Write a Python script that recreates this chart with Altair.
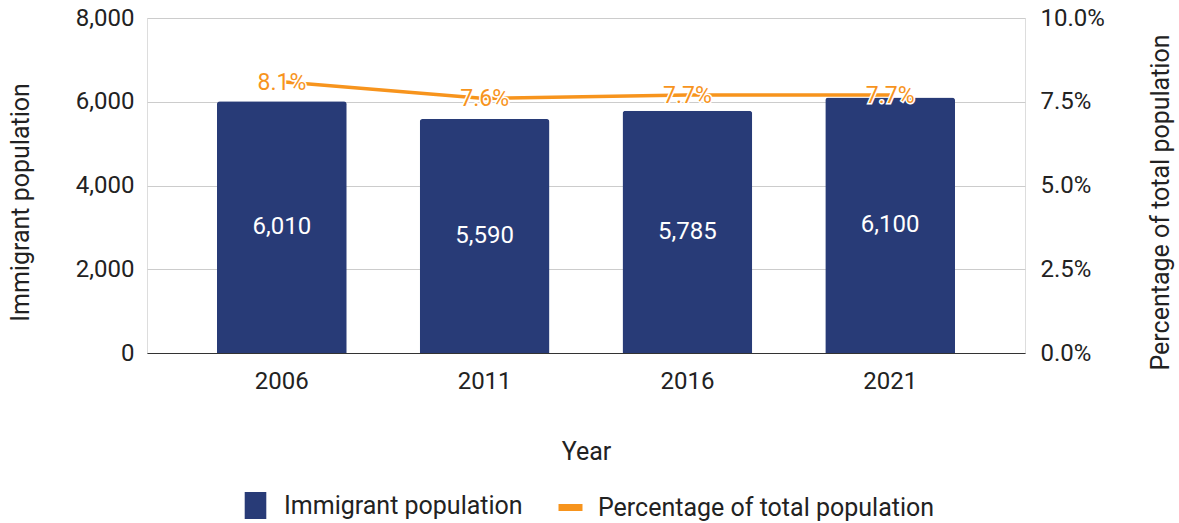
import altair as alt
import pandas as pd

years = ["2006", "2011", "2016", "2021"]
immigrants = [6010, 5590, 5785, 6100]
pct = [0.081, 0.076, 0.077, 0.077]
pct_labels = ["8.1%", "7.6%", "7.7%", "7.7%"]
imm_labels = ["6,010", "5,590", "5,785", "6,100"]

df = pd.DataFrame({
    "Year": years,
    "Immigrants": immigrants,
    "Pct": pct,
    "PctLabel": pct_labels,
    "ImmLabel": imm_labels,
    "s1": ["Immigrant population"] * 4,
    "s2": ["Percentage of total population"] * 4,
})

NAVY = "#283b77"
ORANGE = "#f7941d"
FONT = "Roboto"
TXT = "#222222"

x = alt.X("Year:N", title="Year",
          scale=alt.Scale(paddingInner=0, paddingOuter=0.165),
          axis=alt.Axis(labelAngle=0, labelFontSize=24, labelPadding=16, titleFontSize=25,
                        titlePadding=46, ticks=False, domainColor="#333", domainWidth=1.2,
                        labelColor=TXT, titleColor=TXT, labelFont=FONT, titleFont=FONT,
                        titleFontWeight="normal"))

left_axis = alt.Axis(values=[0, 2000, 4000, 6000, 8000], format=",.0f", labelFontSize=24,
                     titleFontSize=25, labelPadding=13, titlePadding=42, titleY=184, ticks=False,
                     domain=False, gridColor="#cccccc", labelColor=TXT, titleColor=TXT,
                     labelFont=FONT, titleFont=FONT, titleFontWeight="normal")
left_scale = alt.Scale(domain=[0, 8000])

right_axis = alt.Axis(orient="right", values=[0, 0.025, 0.05, 0.075, 0.1], format=".1%",
                      labelFontSize=24, titleFontSize=25, labelPadding=15, titlePadding=44,
                      titleAngle=270, titleBaseline="top", titleY=184,
                      ticks=False, domain=False, grid=False, labelColor=TXT,
                      titleColor=TXT, labelFont=FONT, titleFont=FONT,
                      titleFontWeight="normal")
right_scale = alt.Scale(domain=[0, 0.1])

bars = alt.Chart(df).mark_bar(cornerRadiusTopLeft=3, cornerRadiusTopRight=3,
                              width=alt.RelativeBandSize(0.64)).encode(
    x=x,
    y=alt.Y("Immigrants:Q", title="Immigrant population", scale=left_scale, axis=left_axis),
    fill=alt.Fill("s1:N", scale=alt.Scale(range=[NAVY]),
                  legend=alt.Legend(title=None, orient="none", legendX=95, legendY=474,
                                    symbolType="M-0.8,-1 L0.8,-1 L0.8,1 L-0.8,1 Z",
                                    symbolSize=729, symbolStrokeWidth=0, labelFontSize=25,
                                    labelFont=FONT, labelColor=TXT, labelOffset=15, padding=0,
                                    labelLimit=400)),
)

bar_text = alt.Chart(df).mark_text(color="white", fontSize=24, font=FONT, baseline="middle").encode(
    x=x,
    y=alt.Y("mid:Q", title="Immigrant population", scale=left_scale, axis=left_axis),
    text="ImmLabel:N",
).transform_calculate(mid="datum.Immigrants / 2")

line = alt.Chart(df).mark_line(strokeWidth=3.5).encode(
    x=x,
    y=alt.Y("Pct:Q", title="Percentage of total population", scale=right_scale, axis=right_axis),
    stroke=alt.Stroke("s2:N", scale=alt.Scale(range=[ORANGE]),
                      legend=alt.Legend(title=None, orient="none", legendX=408, legendY=474,
                                        symbolType="stroke", symbolSize=576, symbolStrokeWidth=7,
                                        labelFontSize=25, labelFont=FONT, labelColor=TXT,
                                        labelOffset=12, padding=0, labelLimit=400)),
)

y_pct = alt.Y("Pct:Q", title="Percentage of total population", scale=right_scale, axis=right_axis)

halo = alt.Chart(df).mark_text(fontSize=23, font=FONT, baseline="middle", color="white",
                               stroke="white", strokeWidth=3, dy=1).encode(
    x=x, y=y_pct, text="PctLabel:N")
pct_text = alt.Chart(df).mark_text(fontSize=23, font=FONT, baseline="middle", color=ORANGE,
                                   dy=1).encode(
    x=x, y=y_pct, text="PctLabel:N")

left = alt.layer(bars, bar_text)
right = alt.layer(line, halo, pct_text)

chart = alt.layer(left, right).resolve_scale(y="independent", fill="independent",
                                              stroke="independent").properties(
    width=878, height=335,
    autosize=alt.AutoSizeParams(type="none"),
    padding={"left": 147, "top": 18, "right": 154, "bottom": 170},
).configure_view(strokeWidth=0, stroke="transparent").configure(font=FONT)

chart.save("out.html", embed_options={"renderer": "svg", "actions": False})
